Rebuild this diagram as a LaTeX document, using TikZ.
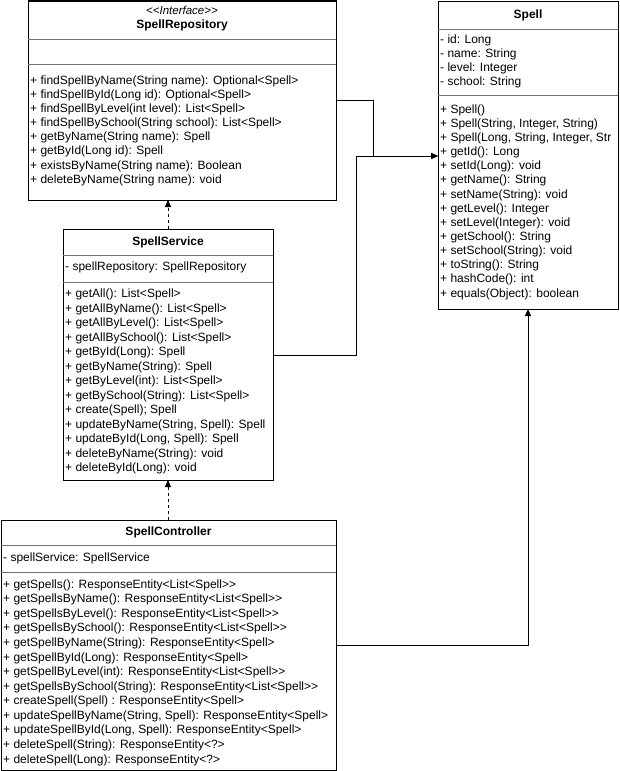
\documentclass[tikz,border=0pt]{standalone}
\usepackage{fontspec}
\setmainfont{Liberation Sans}
\usetikzlibrary{arrows.meta}

% one class member per line: name prefix, x, first y, line step, list
\newcommand\memberlist[5]{%
  \foreach \txt [count=\k from 0] in {#5} {
    \node[member] (#1-\k) at (#2, {#3+#4*\k}) {\txt};
  }%
}
% doubled angle brackets, kept apart so they are not merged into guillemets
\newcommand\ltlt{<\kern0pt<}
\newcommand\gtgt{>\kern0pt>}

\begin{document}
\begin{tikzpicture}[x=1pt,y=-1pt,
  classbox/.style={draw=black, line width=1pt, fill=white, rectangle,
    anchor=north west, inner sep=0pt, outer sep=0pt},
  sep/.style={draw=black!55, line width=0.8pt},
  member/.style={anchor=west, inner sep=0pt, font=\fontsize{12}{14}\selectfont},
  classtitle/.style={inner sep=0pt, font=\fontsize{12}{14}\selectfont\bfseries},
  stereo/.style={inner sep=0pt, font=\fontsize{11.5}{13}\selectfont\itshape},
  assoc/.style={draw=black, line width=1pt, -{Triangle[length=7pt,width=6pt]}},
  depend/.style={assoc, dash pattern=on 3pt off 3pt},
]
\useasboundingbox (0,0) rectangle (619,771);

% ---------- class boxes ----------
\node[classbox, minimum width=308pt, minimum height=199pt] (repo) at (28,1) {};
\node[classbox, minimum width=180pt, minimum height=308pt] (spell) at (438,1) {};
\node[classbox, minimum width=210pt, minimum height=251pt] (svc) at (63,229) {};
\node[classbox, minimum width=335pt, minimum height=250pt] (ctl) at (1,520) {};

% ---------- SpellRepository ----------
\node[stereo] (repo-stereo) at (182,10.5) {\ltlt Interface\gtgt};
\node[classtitle] (repo-title) at (182,25) {SpellRepository};
\draw[sep] (repo.west |- 0,39.5) -- (repo.east |- 0,39.5);
\draw[sep] (repo.west |- 0,64.5) -- (repo.east |- 0,64.5);
\memberlist{repo-m}{30}{81}{14.15}{
  {+ findSpellByName(String name): Optional<Spell>},
  {+ findSpellById(Long id): Optional<Spell>},
  {+ findSpellByLevel(int level): List<Spell>},
  {+ findSpellBySchool(String school): List<Spell>},
  {+ getByName(String name): Spell},
  {+ getById(Long id): Spell},
  {+ existsByName(String name): Boolean},
  {+ deleteByName(String name): void}}

% ---------- Spell ----------
\node[classtitle] (spell-title) at (528,15) {Spell};
\draw[sep] (spell.west |- 0,29) -- (spell.east |- 0,29);
\memberlist{spell-a}{440}{40}{14}{
  {- id: Long},
  {- name: String},
  {- level: Integer},
  {- school: String}}
\draw[sep] (spell.west |- 0,95) -- (spell.east |- 0,95);
\begin{scope}
  \clip (438,96) rectangle (617.5,308);
  \memberlist{spell-m}{440}{110}{14.15}{
    {+ Spell()},
    {+ Spell(String, Integer, String)},
    {+ Spell(Long, String, Integer, Str},
    {+ getId(): Long},
    {+ setId(Long): void},
    {+ getName(): String},
    {+ setName(String): void},
    {+ getLevel(): Integer},
    {+ setLevel(Integer): void},
    {+ getSchool(): String},
    {+ setSchool(String): void},
    {+ toString(): String},
    {+ hashCode(): int},
    {+ equals(Object): boolean}}
\end{scope}

% ---------- SpellService ----------
\node[classtitle] (svc-title) at (168,242) {SpellService};
\draw[sep] (svc.west |- 0,255) -- (svc.east |- 0,255);
\node[member] (svc-a0) at (65,267) {- spellRepository: SpellRepository};
\draw[sep] (svc.west |- 0,282) -- (svc.east |- 0,282);
\memberlist{svc-m}{65}{294.5}{14.5}{
  {+ getAll(): List<Spell>},
  {+ getAllByName(): List<Spell>},
  {+ getAllByLevel(): List<Spell>},
  {+ getAllBySchool(): List<Spell>},
  {+ getById(Long): Spell},
  {+ getByName(String): Spell},
  {+ getByLevel(int): List<Spell>},
  {+ getBySchool(String): List<Spell>},
  {+ create(Spell); Spell},
  {+ updateByName(String, Spell): Spell},
  {+ updateById(Long, Spell): Spell},
  {+ deleteByName(String): void},
  {+ deleteById(Long): void}}

% ---------- SpellController ----------
\node[classtitle] (ctl-title) at (168.5,532) {SpellController};
\draw[sep] (ctl.west |- 0,545) -- (ctl.east |- 0,545);
\node[member] (ctl-a0) at (3,558.5) {- spellService: SpellService};
\draw[sep] (ctl.west |- 0,572.5) -- (ctl.east |- 0,572.5);
\memberlist{ctl-m}{3}{585}{14.58}{
  {+ getSpells(): ResponseEntity<List<Spell\gtgt},
  {+ getSpellsByName(): ResponseEntity<List<Spell\gtgt},
  {+ getSpellsByLevel(): ResponseEntity<List<Spell\gtgt},
  {+ getSpellsBySchool(): ResponseEntity<List<Spell\gtgt},
  {+ getSpellByName(String): ResponseEntity<Spell>},
  {+ getSpellById(Long): ResponseEntity<Spell>},
  {+ getSpellByLevel(int): ResponseEntity<List<Spell\gtgt},
  {+ getSpellsBySchool(String): ResponseEntity<List<Spell\gtgt},
  {+ createSpell(Spell) : ResponseEntity<Spell>},
  {+ updateSpellByName(String, Spell): ResponseEntity<Spell>},
  {+ updateSpellById(Long, Spell): ResponseEntity<Spell>},
  {+ deleteSpell(String): ResponseEntity<?>},
  {+ deleteSpell(Long): ResponseEntity<?>}}

% ---------- relations ----------
\draw[assoc] (repo.east |- 0,100) -| (373,156) -- (spell.west |- 0,156);
\draw[assoc] (svc.east |- 0,355) -| (356,156) -- (spell.west |- 0,156);
\draw[assoc] (ctl.east |- 0,645) -| (spell.south -| 528,0);
\draw[depend] (svc.north -| 168,0) -- (repo.south -| 168,0);
\draw[depend] (ctl.north -| 168,0) -- (svc.south -| 168,0);
\end{tikzpicture}
\end{document}
